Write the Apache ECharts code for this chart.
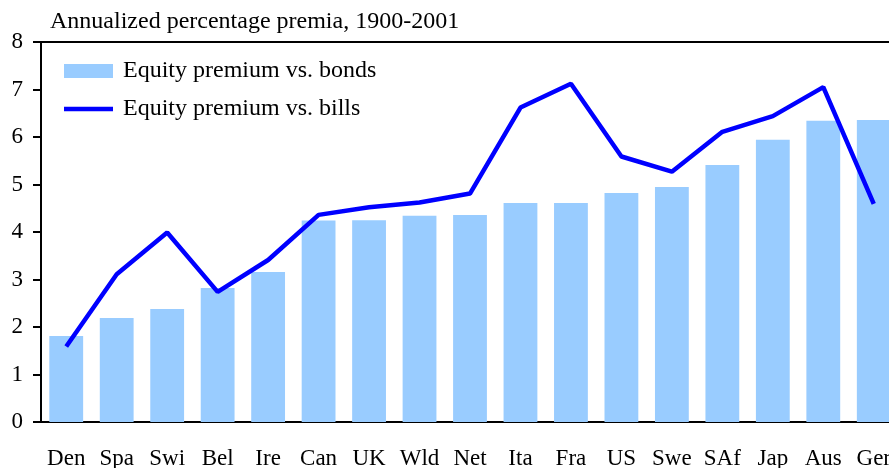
<!DOCTYPE html>
<html>
<head>
<meta charset="utf-8">
<script src="https://cdn.jsdelivr.net/npm/echarts@6/dist/echarts.min.js"></script>
<style>html,body{margin:0;padding:0;background:#fff}#c{width:889px;height:468px}</style>
</head>
<body>
<div id="c"></div>
<script>
var titleText = 'Annualized percentage premia, 1900-2001';
var categories = ['Den','Spa','Swi','Bel','Ire','Can','UK','Wld','Net','Ita','Fra','US','Swe','SAf','Jap','Aus','Ger'];
var vsBonds = [1.81,2.19,2.38,2.82,3.16,4.24,4.25,4.34,4.36,4.61,4.61,4.82,4.95,5.41,5.94,6.34,6.36];
var vsBills = [1.59,3.11,3.99,2.74,3.41,4.36,4.52,4.62,4.81,6.62,7.12,5.59,5.27,6.11,6.44,7.05,4.59];
var yTicks = [0,1,2,3,4,5,6,7,8];
var seriesNames = ['Equity premium vs. bonds','Equity premium vs. bills'];

var FONT = '"Liberation Serif", "DejaVu Serif", serif';
var chart = echarts.init(document.getElementById('c'), null, {renderer:'canvas'});
chart.setOption({
  animation: false,
  backgroundColor: '#ffffff',
  title: {
    text: titleText, left: 45, top: 5,
    textStyle: {fontFamily: FONT, fontSize: 24, fontWeight: 'normal', color: '#000'}
  },
  legend: {
    orient: 'vertical', left: 59, top: 54,
    itemWidth: 49, itemHeight: 14, itemGap: 14,
    symbolKeepAspect: true,
    textStyle: {fontFamily: FONT, fontSize: 24, color: '#000', lineHeight: 24, padding: [0,0,0,5]},
    data: [
      {name: seriesNames[0], icon: 'rect', itemStyle: {color: '#99CCFF'}},
      {name: seriesNames[1], icon: 'path://M0,0 L50,0 L50,4.5 L0,4.5 Z', itemStyle: {color: '#0000FF'}}
    ]
  },
  grid: {left: 41, width: 858, top: 42, bottom: 46, outerBoundsMode: 'none', containLabel: false,
         show: true, borderColor: '#000', borderWidth: 2, backgroundColor: 'transparent'},
  xAxis: {
    type: 'category', data: categories,
    axisLine: {lineStyle: {color: '#000', width: 2}},
    axisTick: {show: false},
    axisLabel: {fontFamily: FONT, fontSize: 23, color: '#000', margin: 25, interval: 0}
  },
  yAxis: {
    type: 'value', min: yTicks[0], max: yTicks[yTicks.length-1], interval: 1,
    axisLine: {show: true, lineStyle: {color: '#000', width: 2}},
    axisTick: {show: true, length: 8, lineStyle: {color: '#000', width: 2}},
    splitLine: {show: false},
    axisLabel: {fontFamily: FONT, fontSize: 23, color: '#000', margin: 18}
  },
  series: [
    {name: seriesNames[0], type: 'bar', data: vsBonds, barCategoryGap: '33%',
     itemStyle: {color: '#99CCFF', borderRadius: 0}},
    {name: seriesNames[1], type: 'line', data: vsBills, symbol: 'none',
     lineStyle: {color: '#0000FF', width: 4.5}, itemStyle: {color: '#0000FF'}}
  ]
});
</script>
</body>
</html>
